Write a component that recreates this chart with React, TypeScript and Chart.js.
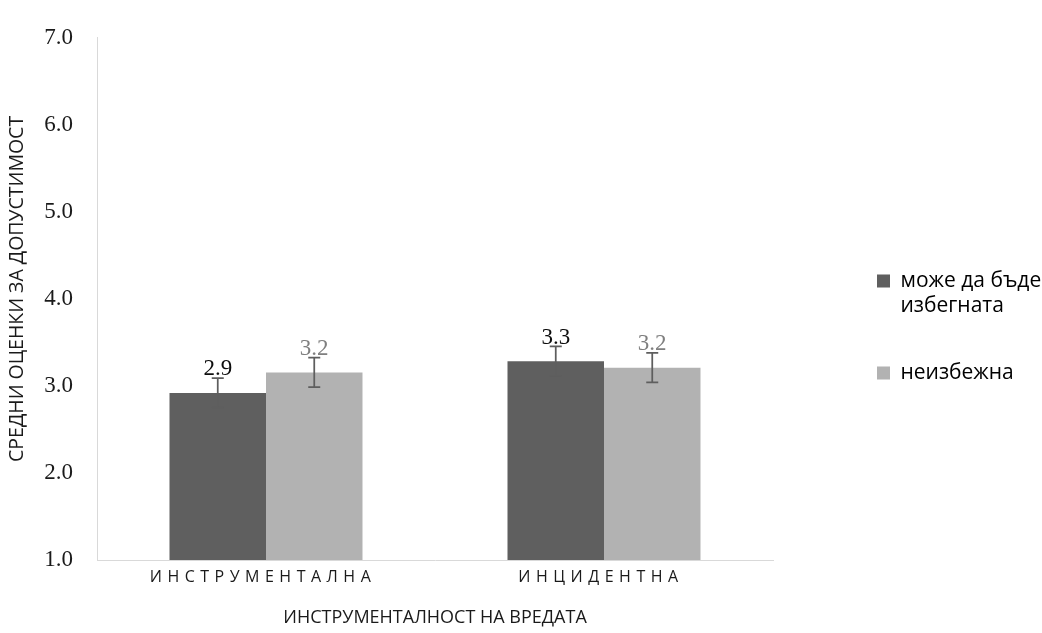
import React, { useEffect, useRef } from 'react';
import { Chart, registerables } from 'chart.js';

Chart.register(...registerables);

// ---- data ----
const categories = ['ИНСТРУМЕНТАЛНА', 'ИНЦИДЕНТНА'];
const avoidableLabel = ['може да бъде', 'избегната'];
const unavoidableLabel = ['неизбежна'];
const avoidableValues = [2.92, 3.285];
const unavoidableValues = [3.155, 3.21];
const avoidableErrors = [0.17, 0.17];
const unavoidableErrors = [0.17, 0.17];
const yTicks = [1, 2, 3, 4, 5, 6, 7];
const xTitle = 'ИНСТРУМЕНТАЛНОСТ НА ВРЕДАТА';
const yTitle = 'СРЕДНИ ОЦЕНКИ ЗА ДОПУСТИМОСТ';

const errorsByDataset = [avoidableErrors, unavoidableErrors];
const labelColors = ['#0d0d0d', '#7f7f7f'];

const SANS = '"Open Sans", "Noto Sans", sans-serif';
const SERIF = '"Liberation Serif", "DejaVu Serif", serif';

const LEGEND_PAD = 42;
const LEGEND_FONT = 21;

const errorAndLabelPlugin = {
  id: 'errorAndLabel',
  afterDatasetsDraw(chart: any) {
    const ctx = chart.ctx;
    const yScale = chart.scales.y;
    chart.data.datasets.forEach((ds: any, di: number) => {
      const meta = chart.getDatasetMeta(di);
      const errs = errorsByDataset[di];
      meta.data.forEach((bar: any, i: number) => {
        const v = ds.data[i] as number;
        const e = errs[i];
        const x = bar.x;
        const yTop = yScale.getPixelForValue(v + e);
        const yBot = yScale.getPixelForValue(v - e);
        ctx.save();
        ctx.strokeStyle = '#5e5e5e';
        ctx.lineWidth = 1.75;
        ctx.beginPath();
        ctx.moveTo(x, yTop);
        ctx.lineTo(x, yBot);
        ctx.moveTo(x - 6, yTop);
        ctx.lineTo(x + 6, yTop);
        ctx.moveTo(x - 6, yBot);
        ctx.lineTo(x + 6, yBot);
        ctx.stroke();
        ctx.fillStyle = labelColors[di];
        ctx.font = `23px ${SERIF}`;
        ctx.textAlign = 'center';
        ctx.textBaseline = 'alphabetic';
        ctx.fillText(v.toFixed(1), x, bar.y - 17.5);
        ctx.restore();
      });
    });
  },
};

const layoutPatchPlugin = {
  id: 'layoutPatch',
  beforeLayout(chart: any) {
    const lg = chart.legend;
    if (lg && !lg.__patched) {
      const orig = lg.fit.bind(lg);
      lg.fit = () => {
        orig();
        lg.width = 1042 - 773;
      };
      lg.__patched = true;
    }
  },
  afterLayout(chart: any) {
    const lg = chart.legend;
    if (lg) {
      lg.left = 877 - LEGEND_PAD;
      lg.right = 1042;
      lg.top = 281 - LEGEND_FONT / 2 - LEGEND_PAD;
    }
    const xs = chart.scales.x;
    if (xs && !xs.__patched) {
      const origDraw = xs.drawLabels.bind(xs);
      xs.drawLabels = (area: any) => {
        const c = chart.ctx as any;
        c.save();
        c.letterSpacing = '5.5px';
        c.translate(-3, 0);
        origDraw(area);
        c.restore();
      };
      xs.__patched = true;
    }
    const ys = chart.scales.y;
    if (ys && !ys.__patched) {
      const origTitle = ys.drawTitle.bind(ys);
      ys.drawTitle = () => {
        const c = chart.ctx;
        c.save();
        c.translate(0, -10);
        origTitle();
        c.restore();
      };
      ys.__patched = true;
    }
  },
};

export default function App() {
  const canvasRef = useRef<HTMLCanvasElement | null>(null);

  useEffect(() => {
    document.body.style.margin = '0';
    const canvas = canvasRef.current;
    if (!canvas) return;
    const chart = new Chart(canvas, {
      type: 'bar',
      data: {
        labels: categories,
        datasets: [
          {
            label: avoidableLabel as any,
            data: avoidableValues,
            backgroundColor: '#5f5f5f',
            categoryPercentage: 0.571,
            barPercentage: 1.0,
          },
          {
            label: unavoidableLabel as any,
            data: unavoidableValues,
            backgroundColor: '#b2b2b2',
            categoryPercentage: 0.571,
            barPercentage: 1.0,
          },
        ],
      },
      options: {
        responsive: false,
        animation: false,
        devicePixelRatio: 1,
        layout: { padding: { top: 24, left: 0, right: 0, bottom: 0 } },
        plugins: {
          tooltip: { enabled: false },
          legend: {
            position: 'right',
            align: 'start',
            labels: {
              boxWidth: 13,
              boxHeight: 13,
              padding: LEGEND_PAD,
              color: '#595959',
              font: { family: SANS, size: LEGEND_FONT, lineHeight: 25 / LEGEND_FONT },
              generateLabels: (ch: any) =>
                ch.data.datasets.map((ds: any, i: number) => ({
                  text: ds.label,
                  fillStyle: ds.backgroundColor,
                  strokeStyle: ds.backgroundColor,
                  lineWidth: 0,
                  hidden: false,
                  datasetIndex: i,
                })),
            },
          },
        },
        scales: {
          x: {
            grid: { display: false, drawTicks: false },
            border: { display: true, color: '#d9d9d9', width: 1 },
            ticks: {
              autoSkip: false,
              maxRotation: 0,
              padding: 8,
              color: '#1a1a1a',
              font: { family: SANS, size: 16 },
            },
            title: {
              display: true,
              text: xTitle,
              color: '#1a1a1a',
              font: { family: SANS, size: 18 },
              padding: { top: 0, bottom: 4 },
            },
            afterFit: (s: any) => {
              s.height = 73;
            },
          },
          y: {
            min: 1,
            max: 7,
            grid: { display: false, drawTicks: false },
            border: { display: true, color: '#d9d9d9', width: 1 },
            afterBuildTicks: (s: any) => {
              s.ticks = yTicks.map((v) => ({ value: v }));
            },
            ticks: {
              padding: 24,
              color: '#1a1a1a',
              font: { family: SERIF, size: 23 },
              callback: (v: any) => Number(v).toFixed(1),
            },
            title: {
              display: true,
              text: yTitle,
              color: '#1a1a1a',
              font: { family: SANS, size: 19.5 },
              padding: { top: 6, bottom: 0 },
            },
            afterFit: (s: any) => {
              s.width = 97;
            },
          },
        },
      },
      plugins: [errorAndLabelPlugin, layoutPatchPlugin],
    });
    return () => chart.destroy();
  }, []);

  return (
    <div style={{ width: 1042, height: 633 }}>
      <canvas ref={canvasRef} width={1042} height={633} style={{ display: 'block' }} />
    </div>
  );
}
